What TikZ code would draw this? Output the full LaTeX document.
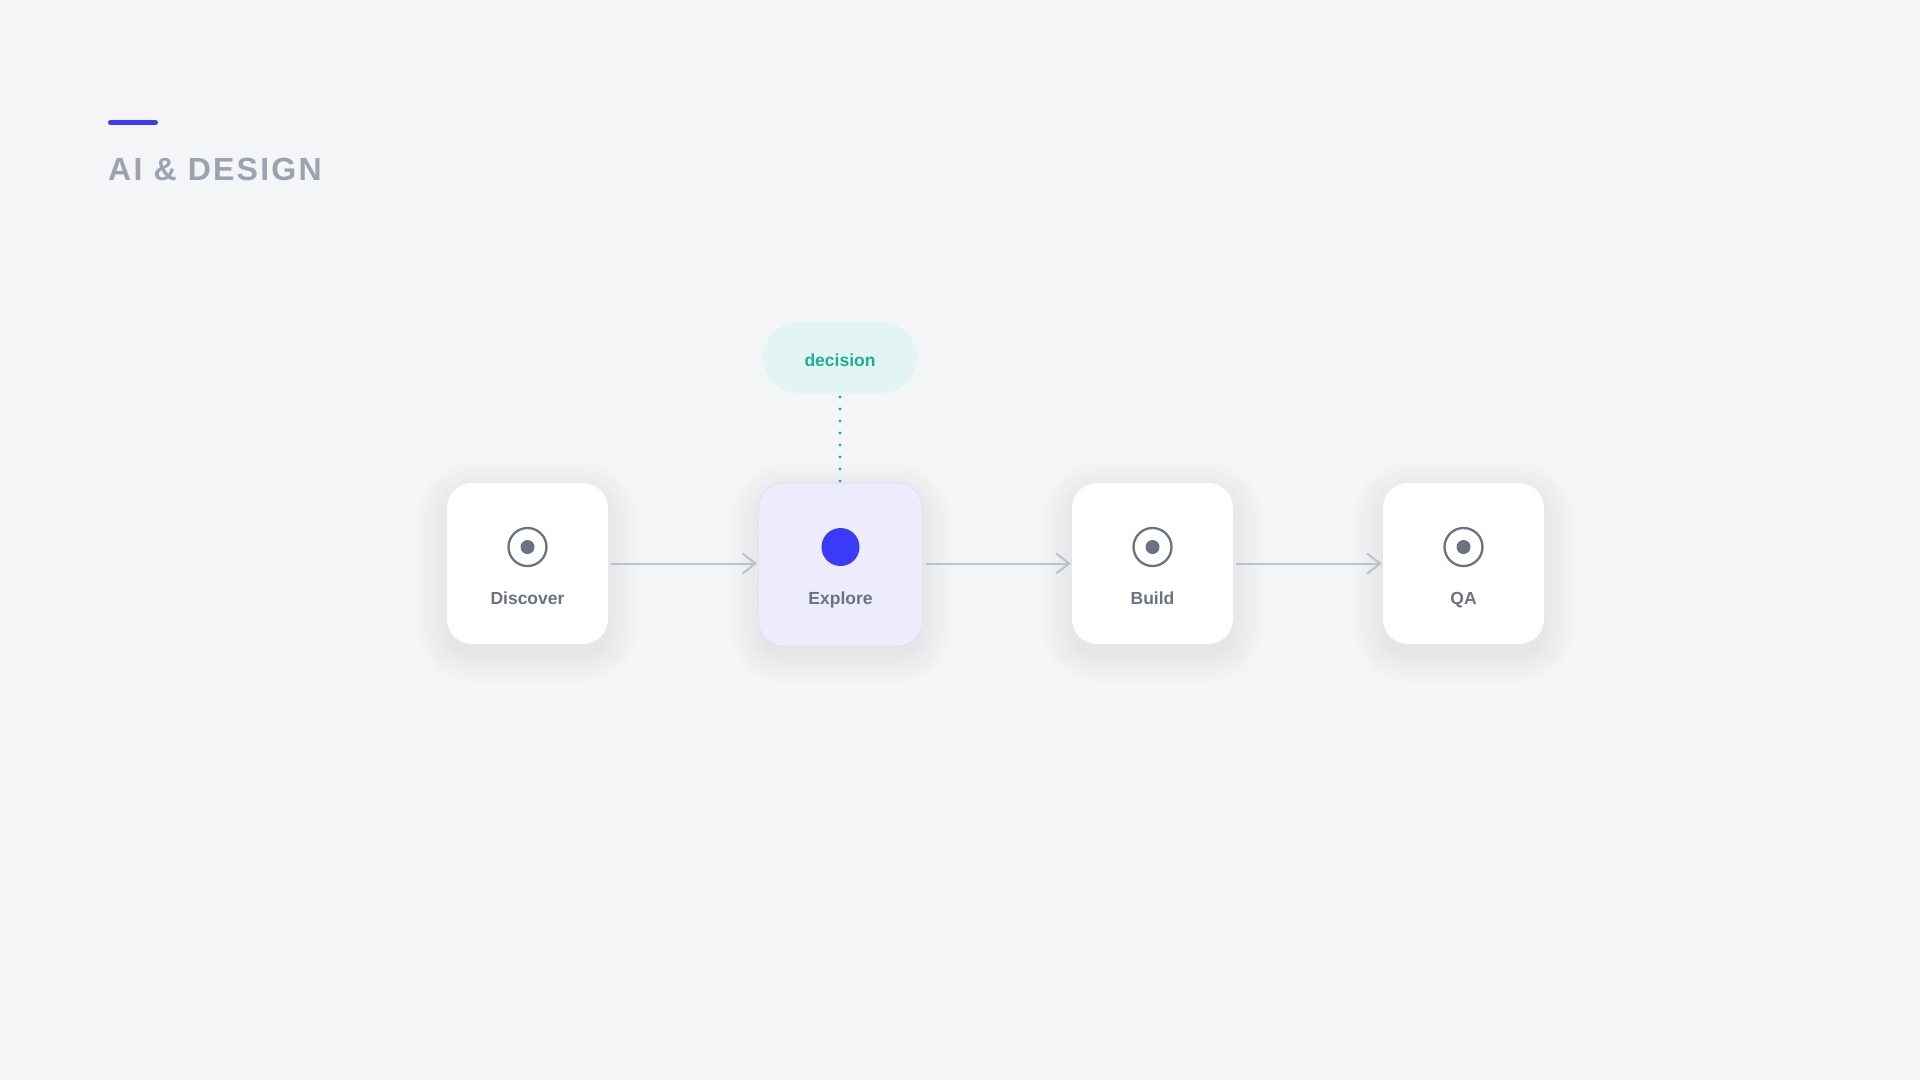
\documentclass[tikz,border=0pt]{standalone}
\usepackage{fontspec}
\setmainfont{Liberation Sans}
\usetikzlibrary{arrows.meta,calc}
\definecolor{bg}{HTML}{F4F5F7}
\definecolor{barblue}{HTML}{3B3BF5}
\definecolor{titlegray}{HTML}{9CA3AF}
\definecolor{labelgray}{HTML}{6B7280}
\definecolor{arrowgray}{HTML}{BAC2CC}
\definecolor{explorefill}{HTML}{ECECFD}
\definecolor{exploreedge}{HTML}{C9CBF3}
\definecolor{dotblue}{HTML}{3B3BF7}
\definecolor{pillfill}{HTML}{E2F5F2}
\definecolor{teal}{HTML}{1FAD98}
\definecolor{shadowc}{HTML}{1E293B}
\newcommand{\softshadow}[2]{%
  \foreach \i in {0,...,14}{%
    \fill[shadowc, opacity=0.0027, rounded corners={25pt+2.2pt*\i}]
      ({#1-80.5-2.2*\i},{#2-80.5-2.2*\i+9}) rectangle ({#1+80.5+2.2*\i},{#2+80.5+2.2*\i+9});
  }%
}
\tikzset{
  stepbox/.style={minimum width=161pt, minimum height=161pt, rounded corners=25pt, fill=white, draw=none, inner sep=0pt},
  activebox/.style={stepbox, minimum width=164pt, minimum height=163pt, fill=explorefill, draw=exploreedge, dotted, line width=0.7pt},
  steplabel/.style={anchor=base, text=labelgray, font=\bfseries\fontsize{17.5}{20}\selectfont, inner sep=0pt},
  ring/.style={draw=labelgray, line width=2.3pt},
  flow/.style={draw=arrowgray, line width=2pt, -{Straight Barb[length=13pt,width=20pt,line width=2pt]}, shorten <=3pt, shorten >=1pt},
  pill/.style={fill=pillfill, rounded corners=35.5pt, minimum width=154pt, minimum height=71pt, inner sep=0pt},
  tealdots/.style={draw=teal, line width=3.2pt, line cap=round, dash pattern=on 0pt off 12pt, shorten <=3.7pt, shorten >=1pt}
}
\begin{document}
\begin{tikzpicture}[x=1pt,y=-1pt]
\fill[bg] (0,0) rectangle (1920,1080);
\useasboundingbox (0,0) rectangle (1920,1080);

% title
\draw[barblue, line width=5pt, line cap=round] (110.5,122.5) -- (155.5,122.5);
\node[anchor=base west, inner sep=0pt, text=titlegray, font=\bfseries\fontsize{32}{36}\selectfont\addfontfeature{LetterSpace=7}] (title) at (108,180) {AI \& DESIGN};

% shadows
\softshadow{527.5}{563.5}
\softshadow{840.5}{564.5}
\softshadow{1152.5}{563.5}
\softshadow{1463.5}{563.5}

% boxes
\node[stepbox] (discover) at (527.5,563.5) {};
\node[activebox] (explore) at (840.5,564.5) {};
\node[stepbox] (build) at (1152.5,563.5) {};
\node[stepbox] (qa) at (1463.5,563.5) {};

% icons
\foreach \n in {discover,build,qa}{
  \draw[ring] ($(\n.center)+(0,-16.5)$) circle (19pt);
  \fill[labelgray] ($(\n.center)+(0,-16.5)$) circle (7pt);
}
\fill[dotblue] ($(explore.center)+(0,-17.5)$) circle (19pt);

% labels
\node[steplabel] (l1) at ($(discover.center)+(0,40.5)$) {Discover};
\node[steplabel] (l2) at ($(explore.center)+(0,40)$) {Explore};
\node[steplabel] (l3) at ($(build.center)+(0,40.5)$) {Build};
\node[steplabel] (l4) at ($(qa.center)+(0,40.5)$) {QA};

% connectors
\draw[flow] (discover.east) -- (discover.east -| explore.west);
\draw[flow] (build.west -| explore.east) -- (build.west);
\draw[flow] (build.east) -- (qa.west);

% decision
\node[pill] (decision) at (840,357.5) {};
\node[anchor=base, inner sep=0pt, text=teal, font=\bfseries\fontsize{17.5}{20}\selectfont] (dtext) at (840,366.5) {decision};
\draw[tealdots] (decision.south) -- (decision.south |- explore.north);
\end{tikzpicture}
\end{document}
